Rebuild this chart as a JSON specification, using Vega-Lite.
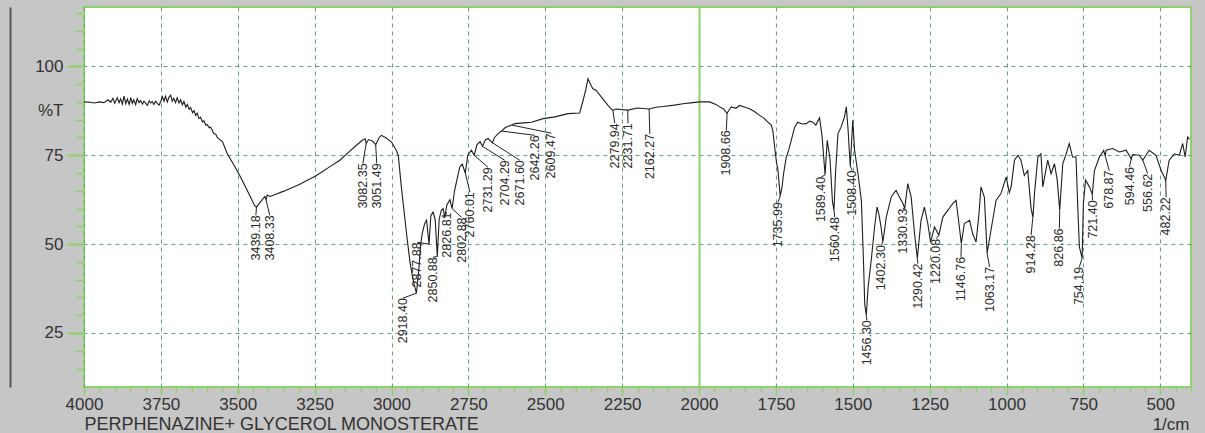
{
  "$schema": "https://vega.github.io/schema/vega-lite/v6.json",
  "autosize": "none",
  "width": 1107,
  "height": 380,
  "padding": {"left": 84, "top": 7, "right": 14, "bottom": 46},
  "background": "#c6c6c6",
  "view": {"fill": "white", "stroke": "#8fd16a", "strokeWidth": 2},
  "config": {"font": "Liberation Sans"},
  "datasets": {
    "spectrum": [
      {"wn":4000,"t":90.0},{"wn":3980,"t":89.9},{"wn":3967,"t":89.7},{"wn":3950,"t":90.0},{"wn":3935,"t":89.8},{"wn":3922,"t":90.6},{"wn":3913,"t":89.9},{"wn":3906,"t":91.0},{"wn":3900,"t":89.6},{"wn":3892,"t":91.2},{"wn":3886,"t":89.8},{"wn":3881,"t":90.9},{"wn":3875,"t":89.4},{"wn":3870,"t":91.6},{"wn":3864,"t":89.5},{"wn":3859,"t":90.8},{"wn":3853,"t":89.3},{"wn":3848,"t":91.2},{"wn":3843,"t":89.6},{"wn":3838,"t":90.6},{"wn":3832,"t":89.2},{"wn":3827,"t":90.9},{"wn":3821,"t":89.8},{"wn":3816,"t":90.4},{"wn":3810,"t":89.4},{"wn":3805,"t":90.2},{"wn":3799,"t":89.6},{"wn":3794,"t":89.0},{"wn":3788,"t":90.3},{"wn":3783,"t":89.7},{"wn":3778,"t":90.1},{"wn":3773,"t":89.3},{"wn":3767,"t":90.2},{"wn":3762,"t":89.6},{"wn":3756,"t":89.1},{"wn":3751,"t":90.0},{"wn":3745,"t":91.4},{"wn":3740,"t":90.2},{"wn":3735,"t":91.6},{"wn":3729,"t":90.0},{"wn":3724,"t":91.3},{"wn":3718,"t":91.9},{"wn":3713,"t":90.2},{"wn":3708,"t":91.0},{"wn":3702,"t":89.8},{"wn":3697,"t":91.2},{"wn":3691,"t":89.7},{"wn":3686,"t":90.6},{"wn":3680,"t":89.2},{"wn":3675,"t":90.1},{"wn":3669,"t":88.5},{"wn":3664,"t":89.3},{"wn":3658,"t":87.9},{"wn":3653,"t":88.4},{"wn":3647,"t":86.9},{"wn":3642,"t":87.5},{"wn":3637,"t":86.2},{"wn":3632,"t":86.8},{"wn":3626,"t":85.3},{"wn":3621,"t":85.7},{"wn":3615,"t":84.4},{"wn":3610,"t":84.7},{"wn":3604,"t":83.5},{"wn":3599,"t":83.6},{"wn":3593,"t":82.7},{"wn":3588,"t":82.9},{"wn":3578,"t":81.1},{"wn":3572,"t":81.0},{"wn":3567,"t":80.1},{"wn":3556,"t":79.2},{"wn":3550,"t":78.9},{"wn":3545,"t":77.8},{"wn":3534,"t":75.4},{"wn":3512,"t":72.2},{"wn":3491,"t":68.9},{"wn":3469,"t":65.1},{"wn":3445,"t":60.8},{"wn":3439,"t":60.4},{"wn":3425,"t":62.0},{"wn":3412,"t":63.4},{"wn":3408,"t":62.6},{"wn":3404,"t":63.8},{"wn":3395,"t":63.4},{"wn":3350,"t":64.9},{"wn":3300,"t":66.8},{"wn":3244,"t":69.3},{"wn":3200,"t":71.8},{"wn":3168,"t":73.6},{"wn":3140,"t":75.8},{"wn":3114,"t":77.8},{"wn":3095,"t":79.2},{"wn":3086,"t":79.6},{"wn":3082,"t":78.3},{"wn":3075,"t":79.4},{"wn":3062,"t":79.0},{"wn":3051,"t":78.0},{"wn":3040,"t":80.0},{"wn":3033,"t":80.6},{"wn":3020,"t":80.0},{"wn":3000,"t":78.7},{"wn":2985,"t":76.5},{"wn":2978,"t":75.0},{"wn":2968,"t":66.1},{"wn":2951,"t":52.9},{"wn":2940,"t":45.0},{"wn":2930,"t":40.0},{"wn":2919,"t":36.2},{"wn":2912,"t":42.0},{"wn":2905,"t":50.0},{"wn":2900,"t":53.0},{"wn":2892,"t":55.8},{"wn":2886,"t":56.7},{"wn":2878,"t":50.0},{"wn":2872,"t":58.0},{"wn":2865,"t":59.0},{"wn":2858,"t":57.0},{"wn":2851,"t":46.5},{"wn":2845,"t":57.0},{"wn":2838,"t":59.5},{"wn":2832,"t":60.0},{"wn":2827,"t":57.5},{"wn":2820,"t":61.0},{"wn":2810,"t":62.5},{"wn":2803,"t":60.0},{"wn":2795,"t":65.0},{"wn":2785,"t":69.0},{"wn":2778,"t":71.7},{"wn":2770,"t":72.5},{"wn":2760,"t":70.0},{"wn":2752,"t":75.0},{"wn":2740,"t":76.4},{"wn":2731,"t":75.0},{"wn":2722,"t":78.0},{"wn":2712,"t":78.8},{"wn":2704,"t":77.5},{"wn":2695,"t":79.3},{"wn":2686,"t":79.7},{"wn":2672,"t":78.5},{"wn":2665,"t":80.0},{"wn":2653,"t":81.1},{"wn":2642,"t":81.8},{"wn":2630,"t":82.8},{"wn":2609,"t":83.5},{"wn":2599,"t":83.9},{"wn":2570,"t":84.1},{"wn":2545,"t":84.3},{"wn":2507,"t":85.3},{"wn":2469,"t":85.8},{"wn":2426,"t":86.7},{"wn":2388,"t":86.9},{"wn":2377,"t":90.4},{"wn":2368,"t":93.5},{"wn":2361,"t":96.5},{"wn":2356,"t":95.6},{"wn":2350,"t":94.5},{"wn":2345,"t":93.7},{"wn":2334,"t":93.2},{"wn":2318,"t":91.4},{"wn":2296,"t":89.0},{"wn":2285,"t":88.0},{"wn":2280,"t":87.6},{"wn":2270,"t":88.0},{"wn":2231,"t":87.7},{"wn":2200,"t":88.3},{"wn":2162,"t":88.0},{"wn":2140,"t":88.5},{"wn":2117,"t":88.7},{"wn":2080,"t":89.1},{"wn":2052,"t":89.5},{"wn":2020,"t":89.8},{"wn":1998,"t":90.0},{"wn":1965,"t":90.0},{"wn":1945,"t":89.3},{"wn":1933,"t":88.6},{"wn":1920,"t":88.0},{"wn":1909,"t":86.8},{"wn":1900,"t":88.0},{"wn":1895,"t":88.6},{"wn":1880,"t":88.2},{"wn":1868,"t":89.0},{"wn":1850,"t":88.5},{"wn":1836,"t":88.1},{"wn":1820,"t":87.3},{"wn":1803,"t":86.2},{"wn":1790,"t":85.5},{"wn":1776,"t":84.3},{"wn":1765,"t":83.5},{"wn":1760,"t":82.0},{"wn":1754,"t":77.3},{"wn":1748,"t":73.0},{"wn":1743,"t":70.7},{"wn":1736,"t":63.5},{"wn":1730,"t":66.0},{"wn":1725,"t":69.8},{"wn":1716,"t":74.5},{"wn":1708,"t":76.5},{"wn":1700,"t":79.2},{"wn":1689,"t":82.9},{"wn":1679,"t":84.3},{"wn":1665,"t":83.8},{"wn":1651,"t":83.9},{"wn":1640,"t":84.6},{"wn":1630,"t":84.3},{"wn":1620,"t":83.5},{"wn":1608,"t":85.5},{"wn":1600,"t":80.5},{"wn":1590,"t":69.5},{"wn":1583,"t":79.2},{"wn":1574,"t":74.0},{"wn":1566,"t":62.0},{"wn":1561,"t":59.5},{"wn":1556,"t":70.0},{"wn":1548,"t":81.1},{"wn":1538,"t":82.9},{"wn":1527,"t":85.7},{"wn":1521,"t":88.6},{"wn":1515,"t":82.0},{"wn":1512,"t":77.3},{"wn":1508,"t":72.0},{"wn":1503,"t":80.0},{"wn":1500,"t":84.8},{"wn":1494,"t":76.4},{"wn":1483,"t":69.8},{"wn":1472,"t":62.3},{"wn":1465,"t":45.0},{"wn":1461,"t":33.0},{"wn":1456,"t":30.0},{"wn":1450,"t":38.0},{"wn":1440,"t":45.4},{"wn":1429,"t":54.8},{"wn":1421,"t":60.4},{"wn":1414,"t":58.0},{"wn":1408,"t":54.8},{"wn":1402,"t":50.6},{"wn":1391,"t":57.6},{"wn":1375,"t":63.2},{"wn":1365,"t":64.5},{"wn":1359,"t":65.1},{"wn":1348,"t":63.2},{"wn":1337,"t":61.5},{"wn":1331,"t":60.0},{"wn":1321,"t":67.0},{"wn":1310,"t":63.2},{"wn":1299,"t":52.9},{"wn":1290,"t":46.0},{"wn":1278,"t":56.7},{"wn":1267,"t":60.4},{"wn":1256,"t":55.8},{"wn":1247,"t":50.6},{"wn":1234,"t":54.8},{"wn":1220,"t":52.5},{"wn":1207,"t":57.6},{"wn":1191,"t":59.5},{"wn":1175,"t":61.4},{"wn":1164,"t":62.3},{"wn":1155,"t":56.0},{"wn":1147,"t":50.2},{"wn":1137,"t":55.8},{"wn":1120,"t":56.7},{"wn":1110,"t":52.9},{"wn":1099,"t":50.6},{"wn":1090,"t":58.0},{"wn":1083,"t":66.1},{"wn":1072,"t":63.2},{"wn":1063,"t":47.5},{"wn":1045,"t":56.7},{"wn":1034,"t":62.3},{"wn":1018,"t":64.2},{"wn":1001,"t":68.9},{"wn":991,"t":64.5},{"wn":985,"t":66.1},{"wn":974,"t":73.6},{"wn":963,"t":75.0},{"wn":953,"t":73.6},{"wn":942,"t":69.3},{"wn":931,"t":70.7},{"wn":920,"t":60.0},{"wn":914,"t":57.5},{"wn":909,"t":64.2},{"wn":898,"t":74.5},{"wn":888,"t":75.4},{"wn":882,"t":66.1},{"wn":866,"t":73.6},{"wn":855,"t":69.8},{"wn":844,"t":72.6},{"wn":835,"t":68.0},{"wn":827,"t":59.5},{"wn":817,"t":72.6},{"wn":806,"t":75.4},{"wn":796,"t":78.3},{"wn":785,"t":74.5},{"wn":774,"t":74.5},{"wn":769,"t":62.3},{"wn":763,"t":49.2},{"wn":754,"t":46.0},{"wn":750,"t":61.4},{"wn":743,"t":68.0},{"wn":730,"t":66.1},{"wn":721,"t":64.0},{"wn":714,"t":70.7},{"wn":698,"t":74.5},{"wn":684,"t":76.3},{"wn":679,"t":74.8},{"wn":676,"t":76.4},{"wn":655,"t":76.9},{"wn":633,"t":75.9},{"wn":611,"t":76.4},{"wn":594,"t":74.0},{"wn":590,"t":75.2},{"wn":568,"t":75.0},{"wn":557,"t":73.6},{"wn":536,"t":76.4},{"wn":514,"t":75.0},{"wn":497,"t":70.7},{"wn":482,"t":68.0},{"wn":471,"t":73.6},{"wn":454,"t":75.4},{"wn":438,"t":75.0},{"wn":427,"t":78.3},{"wn":419,"t":74.5},{"wn":411,"t":80.1},{"wn":405,"t":79.5}
    ],
    "peaks": [
      {"wn":3439.18,"t":60.4,"lx":3441,"ly":58.1,"label":"3439.18"},
      {"wn":3408.33,"t":62.6,"lx":3396,"ly":58.1,"label":"3408.33"},
      {"wn":3082.35,"t":78.3,"lx":3093,"ly":72.7,"label":"3082.35"},
      {"wn":3051.49,"t":78.0,"lx":3048,"ly":72.7,"label":"3051.49"},
      {"wn":2918.40,"t":36.2,"lx":2963,"ly":34.8,"label":"2918.40"},
      {"wn":2877.88,"t":50.0,"lx":2916,"ly":50.5,"label":"2877.88"},
      {"wn":2850.88,"t":46.5,"lx":2866,"ly":46.3,"label":"2850.88"},
      {"wn":2826.81,"t":57.5,"lx":2821,"ly":58.9,"label":"2826.81"},
      {"wn":2802.88,"t":60.0,"lx":2772,"ly":57.5,"label":"2802.88"},
      {"wn":2760.01,"t":70.0,"lx":2745,"ly":64.6,"label":"2760.01"},
      {"wn":2731.29,"t":75.0,"lx":2686,"ly":71.6,"label":"2731.29"},
      {"wn":2704.29,"t":77.5,"lx":2632,"ly":73.6,"label":"2704.29"},
      {"wn":2671.60,"t":78.5,"lx":2583,"ly":73.6,"label":"2671.60"},
      {"wn":2642.26,"t":81.8,"lx":2534,"ly":80.6,"label":"2642.26"},
      {"wn":2609.47,"t":83.5,"lx":2480,"ly":81.2,"label":"2609.47"},
      {"wn":2279.94,"t":87.6,"lx":2274,"ly":84.0,"label":"2279.94"},
      {"wn":2231.71,"t":87.7,"lx":2231,"ly":84.0,"label":"2231.71"},
      {"wn":2162.27,"t":88.0,"lx":2160,"ly":81.0,"label":"2162.27"},
      {"wn":1908.66,"t":86.8,"lx":1911,"ly":82.0,"label":"1908.66"},
      {"wn":1735.99,"t":63.5,"lx":1743,"ly":61.8,"label":"1735.99"},
      {"wn":1589.40,"t":69.5,"lx":1602,"ly":68.9,"label":"1589.40"},
      {"wn":1560.48,"t":59.5,"lx":1559,"ly":57.6,"label":"1560.48"},
      {"wn":1508.40,"t":72.0,"lx":1502,"ly":70.7,"label":"1508.40"},
      {"wn":1456.30,"t":30.0,"lx":1454,"ly":28.6,"label":"1456.30"},
      {"wn":1402.30,"t":50.6,"lx":1407,"ly":49.7,"label":"1402.30"},
      {"wn":1330.93,"t":60.0,"lx":1337,"ly":60.0,"label":"1330.93"},
      {"wn":1290.42,"t":46.0,"lx":1288,"ly":44.5,"label":"1290.42"},
      {"wn":1220.08,"t":52.5,"lx":1229,"ly":51.5,"label":"1220.08"},
      {"wn":1146.76,"t":50.2,"lx":1148,"ly":46.4,"label":"1146.76"},
      {"wn":1063.17,"t":47.5,"lx":1055,"ly":43.6,"label":"1063.17"},
      {"wn":914.28,"t":57.5,"lx":920,"ly":52.5,"label":"914.28"},
      {"wn":826.86,"t":59.5,"lx":828,"ly":54.4,"label":"826.86"},
      {"wn":754.19,"t":46.0,"lx":763,"ly":43.6,"label":"754.19"},
      {"wn":721.40,"t":64.0,"lx":720,"ly":62.3,"label":"721.40"},
      {"wn":678.87,"t":74.8,"lx":666,"ly":70.7,"label":"678.87"},
      {"wn":594.46,"t":74.0,"lx":600,"ly":71.7,"label":"594.46"},
      {"wn":556.62,"t":73.6,"lx":541,"ly":69.8,"label":"556.62"},
      {"wn":482.22,"t":68.0,"lx":481,"ly":63.2,"label":"482.22"}
    ]
  },
  "layer": [
    {
      "data": {"name": "spectrum"},
      "mark": {"type": "line", "color": "#1e1e1e", "strokeWidth": 1.1},
      "encoding": {
        "x": {"field": "wn", "type": "quantitative",
          "scale": {"domain": [400, 4000], "reverse": true, "nice": false, "zero": false},
          "axis": {"orient": "bottom", "values": [4000,3750,3500,3250,3000,2750,2500,2250,2000,1750,1500,1250,1000,750,500],
            "format": "d",
            "grid": true,
            "gridColor": {"condition": {"test": "datum.value === 2000", "value": "#8fd16a"}, "value": "#5aa37c"},
            "gridDash": {"condition": {"test": "datum.value === 2000", "value": []}, "value": [4, 4]},
            "gridWidth": {"condition": {"test": "datum.value === 2000", "value": 2}, "value": 1},
            "domain": false, "tickColor": "#8fd16a", "tickSize": 8, "tickWidth": 1.5,
            "labelFont": "Liberation Sans", "labelFontSize": 17, "labelColor": "#333", "labelPadding": 1, "labelFlush": false,
            "title": "PERPHENAZINE+ GLYCEROL MONOSTERATE", "titleAnchor": "start", "titleAlign": "left",
            "titleX": 0, "titleY": 42, "titleBaseline": "alphabetic", "titleFont": "Liberation Sans",
            "titleFontSize": 18, "titleFontWeight": "normal", "titleColor": "#333"}},
        "y": {"field": "t", "type": "quantitative",
          "scale": {"domain": [9.8, 116.7], "nice": false, "zero": false},
          "axis": {"orient": "left", "values": [25, 50, 75, 100], "grid": true, "gridColor": "#5aa37c", "gridDash": [4, 4],
            "domain": false, "tickColor": "#8fd16a", "tickSize": 17, "tickWidth": 2,
            "labelFont": "Liberation Sans", "labelFontSize": 17, "labelColor": "#333", "labelPadding": 4,
            "title": "%T", "titleAngle": 0, "titleAlign": "right", "titleBaseline": "middle",
            "titleX": -21, "titleY": 103, "titleFont": "Liberation Sans", "titleFontSize": 17,
            "titleFontWeight": "normal", "titleColor": "#333"}}
      }
    },
    {
      "data": {"name": "peaks"},
      "mark": {"type": "rule", "color": "#222", "strokeWidth": 1},
      "encoding": {
        "x": {"field": "wn", "type": "quantitative",
          "scale": {"domain": [400, 4000], "reverse": true, "nice": false, "zero": false},
          "axis": {"orient": "bottom", "values": [4000,3950,3900,3850,3800,3750,3700,3650,3600,3550,3500,3450,3400,3350,3300,3250,3200,3150,3100,3050,3000,2950,2900,2850,2800,2750,2700,2650,2600,2550,2500,2450,2400,2350,2300,2250,2200,2150,2100,2050,2000,1950,1900,1850,1800,1750,1700,1650,1600,1550,1500,1450,1400,1350,1300,1250,1200,1150,1100,1050,1000,950,900,850,800,750,700,650,600,550,500,450,400],
            "labels": false, "grid": false, "domain": false, "tickColor": "#8fd16a", "tickSize": 5, "tickWidth": 1.5,
            "title": "1/cm", "titleAlign": "right", "titleX": 1105, "titleY": 42, "titleBaseline": "alphabetic",
            "titleFont": "Liberation Sans", "titleFontSize": 17, "titleFontWeight": "normal", "titleColor": "#333"}},
        "x2": {"field": "lx"},
        "y": {"field": "t", "type": "quantitative",
          "scale": {"domain": [9.8, 116.7], "nice": false, "zero": false},
          "axis": {"orient": "left", "values": [15,20,25,30,35,40,45,50,55,60,65,70,75,80,85,90,95,100,105,110,115],
            "labels": false, "grid": false, "domain": false, "tickColor": "#8fd16a", "tickSize": 9, "tickWidth": 1.5, "title": null}},
        "y2": {"field": "ly"}
      }
    },
    {
      "data": {"name": "peaks"},
      "mark": {"type": "text", "angle": 270, "align": "right", "baseline": "middle", "font": "Liberation Sans", "fontSize": 12.5, "color": "#2a2a2a"},
      "encoding": {
        "x": {"field": "lx", "type": "quantitative",
          "scale": {"domain": [400, 4000], "reverse": true, "nice": false, "zero": false}, "axis": null},
        "y": {"field": "ly", "type": "quantitative",
          "scale": {"domain": [9.8, 116.7], "nice": false, "zero": false},
          "axis": {"orient": "left", "offset": 74, "domain": true, "domainColor": "#555", "domainWidth": 2,
            "ticks": false, "labels": false, "grid": false, "title": null}},
        "text": {"field": "label"}
      }
    }
  ],
  "resolve": {"axis": {"x": "independent", "y": "independent"}}
}
